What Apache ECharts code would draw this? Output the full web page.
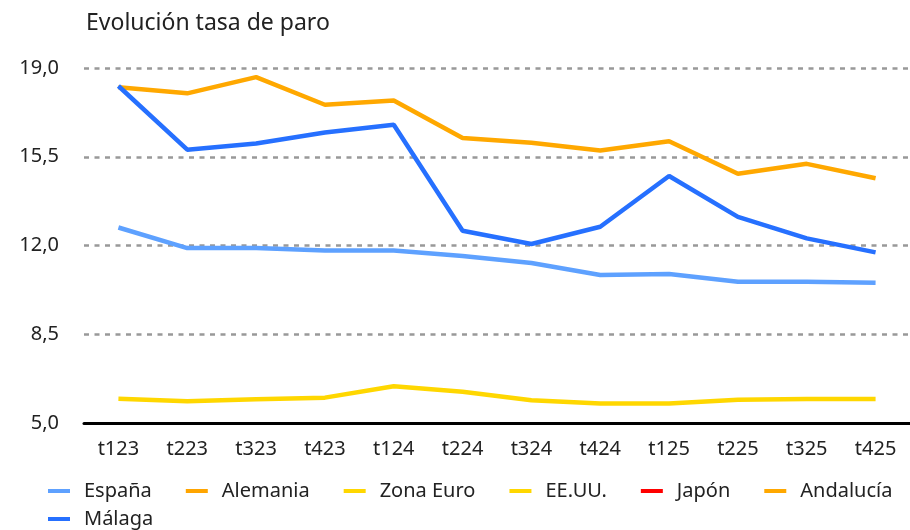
<!DOCTYPE html>
<html>
<head>
<meta charset="utf-8">
<script src="https://cdn.jsdelivr.net/npm/echarts@6/dist/echarts.min.js"></script>
<style>
  html, body { margin: 0; padding: 0; background: #fff; }
  #pic { width: 910px; height: 530px; }
</style>
</head>
<body>
<div id="pic"></div>
<script>
  var categories = ['t123', 't223', 't323', 't423', 't124', 't224', 't324', 't424', 't125', 't225', 't325', 't425'];
  var yTicks = [5, 19, 3.5];   // min, max, step
  var espana    = [12.71, 11.9, 11.9, 11.8, 11.8, 11.59, 11.31, 10.84, 10.88, 10.57, 10.57, 10.53];
  var alemania  = [];
  var zonaEuro  = [5.96, 5.86, 5.94, 6.0, 6.45, 6.23, 5.9, 5.77, 5.77, 5.92, 5.95, 5.95];
  var eeuu      = [];
  var japon     = [];
  var andalucia = [18.24, 18.0, 18.64, 17.55, 17.72, 16.24, 16.05, 15.75, 16.11, 14.83, 15.22, 14.65];
  var malaga    = [18.29, 15.78, 16.02, 16.46, 16.76, 12.58, 12.06, 12.74, 14.74, 13.13, 12.28, 11.73];

  var font = 'Noto Sans';
  var myChart = echarts.init(document.getElementById('pic'));

  function line(name, color, data) {
      return {
          name: name,
          type: 'line',
          data: data,
          symbol: 'none',
          lineStyle: { width: 4.5, color: color, cap: 'butt' },
          itemStyle: { color: color },
          emphasis: { disabled: true }
      };
  }

  var legendBase = {
      icon: 'rect',
      itemWidth: 22,
      itemHeight: 4,
      itemGap: 34,
      padding: 0,
      left: 48,
      selectedMode: false,
      textStyle: { fontFamily: font, fontSize: 20, color: '#222', padding: [0, 0, 0, 9] }
  };

  var option = {
      animation: false,
      title: {
          text: 'Evolución tasa de paro',
          left: 81,
          top: 7,
          textStyle: { fontFamily: font, fontSize: 23, fontWeight: 'normal', color: '#222' }
      },
      legend: [
          Object.assign({}, legendBase, { top: 481, data: ['España', 'Alemania', 'Zona Euro', 'EE.UU.', 'Japón', 'Andalucía'] }),
          Object.assign({}, legendBase, { top: 509, data: ['Málaga'] })
      ],
      grid: { left: 84, right: -3, top: 68, bottom: 107, containLabel: false },
      xAxis: [{
          type: 'category',
          data: categories,
          boundaryGap: true,
          axisLine: { lineStyle: { color: '#000', width: 3 } },
          axisTick: { show: false },
          axisLabel: { fontFamily: font, fontSize: 20, color: '#222', margin: 16 }
      }],
      yAxis: [{
          type: 'value',
          min: yTicks[0],
          max: yTicks[1],
          interval: yTicks[2],
          axisLine: { show: false },
          axisTick: { show: false },
          axisLabel: {
              fontFamily: font, fontSize: 20, color: '#222', margin: 25,
              formatter: function (v) { return v.toFixed(1).replace('.', ','); }
          },
          splitLine: { lineStyle: { color: '#999', width: 2.5, type: [5, 5.5] } }
      }],
      series: [
          line('España', '#5ea1ff', espana),
          line('Alemania', '#ffa500', alemania),
          line('Zona Euro', '#ffd700', zonaEuro),
          line('EE.UU.', '#ffd700', eeuu),
          line('Japón', '#ff0000', japon),
          line('Andalucía', '#ffa800', andalucia),
          line('Málaga', '#2670ff', malaga)
      ]
  };
  myChart.setOption(option);
</script>
</body>
</html>
